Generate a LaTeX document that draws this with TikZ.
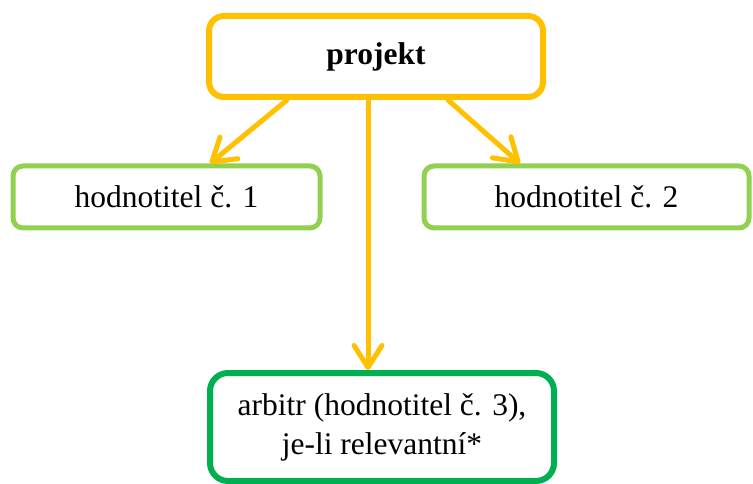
\documentclass[tikz,border=0pt]{standalone}
\usepackage{fontspec}
\setmainfont{Liberation Serif}
\usetikzlibrary{arrows.meta}
\definecolor{orng}{HTML}{FFC000}
\definecolor{lgreen}{HTML}{92D050}
\definecolor{dgreen}{HTML}{00B050}
\tikzset{
  box/.style={draw, rectangle, fill=white, align=center, inner sep=0pt,
    font=\fontsize{31.5}{39}\selectfont},
  conn/.style={draw=orng, line width=5pt, line cap=round,
    -{Straight Barb[length=22pt,width=28pt,round]}}
}
\begin{document}
\begin{tikzpicture}[x=1pt,y=-1pt]
\useasboundingbox (0,0) rectangle (753,484);
\node[box, draw=orng, line width=6pt, rounded corners=15pt,
  minimum width=334pt, minimum height=81pt] (projekt) at (376,56.5) {\textbf{projekt}};
\node[box, draw=lgreen, line width=5pt, rounded corners=10pt,
  minimum width=307pt, minimum height=62pt] (hod1) at (166.5,197) {hodnotitel č. 1};
\node[box, draw=lgreen, line width=5pt, rounded corners=10pt,
  minimum width=325pt, minimum height=62pt] (hod2) at (586.5,197) {hodnotitel č. 2};
\node[box, draw=dgreen, line width=6pt, rounded corners=18pt,
  minimum width=344pt, minimum height=108pt] (arbitr) at (382,427) {arbitr (hodnotitel č. 3),\\je-li relevantní*};
\draw[conn] ([xshift=-89pt]projekt.south) -- ([xshift=43.5pt]hod1.north);
\draw[conn] ([xshift=72pt]projekt.south) -- ([xshift=-66.5pt]hod2.north);
\draw[conn] ([xshift=-8pt]projekt.south) -- ([xshift=-14pt]arbitr.north);
\end{tikzpicture}
\end{document}
